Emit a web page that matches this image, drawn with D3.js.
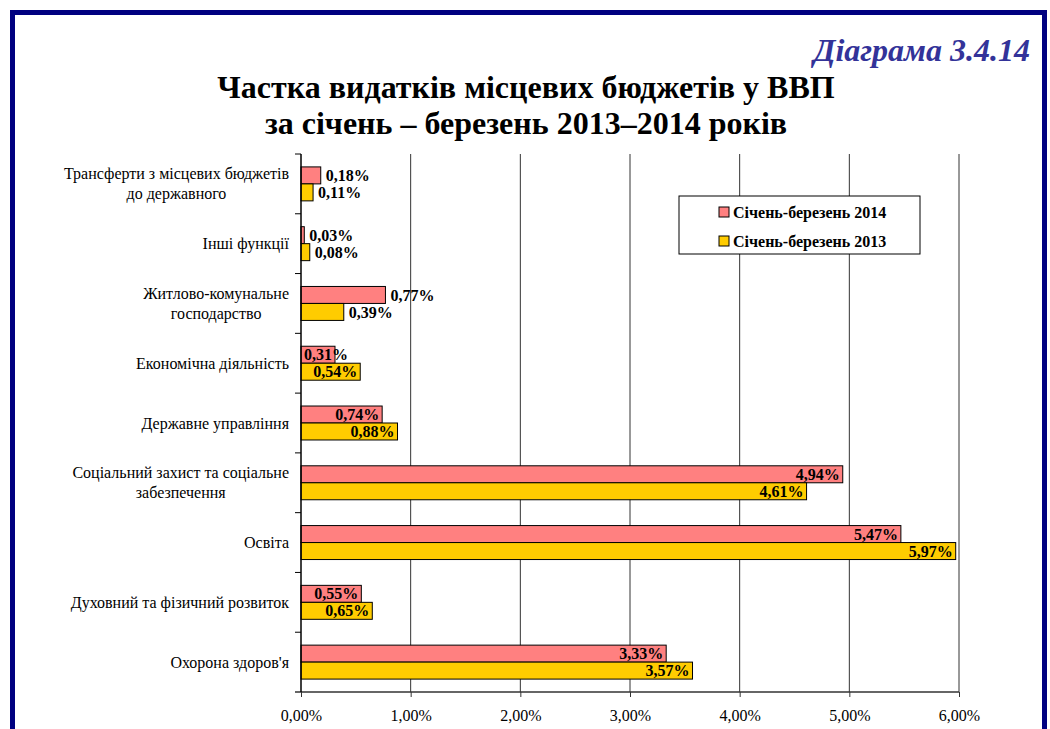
<!DOCTYPE html>
<html>
<head>
<meta charset="utf-8">
<script src="https://cdn.jsdelivr.net/npm/d3@7"></script>
<style>
  body { margin: 0; background: #fff; }
  text { font-family: "Liberation Serif", "Times New Roman", serif; }
</style>
</head>
<body>
<svg width="1050" height="729"></svg>
<script>
  const categories = [
    ["Трансферти з місцевих бюджетів", "до державного"],
    ["Інші функції"],
    ["Житлово-комунальне", "господарство"],
    ["Економічна діяльність"],
    ["Державне управління"],
    ["Соціальний захист та соціальне", "забезпечення"],
    ["Освіта"],
    ["Духовний та фізичний розвиток"],
    ["Охорона здоров'я"]
  ];
  const series = ["Січень-березень 2014", "Січень-березень 2013"];
  const values2014 = [0.18, 0.03, 0.77, 0.31, 0.74, 4.94, 5.47, 0.55, 3.33];
  const values2013 = [0.11, 0.08, 0.39, 0.54, 0.88, 4.61, 5.97, 0.65, 3.57];
  const xTicks = [0, 1, 2, 3, 4, 5, 6];
  // labels of these categories sit outside the bar end
  const outsideLabels = [0, 1, 2];

  const svg = d3.select("svg"),
        margin = {top: 154, right: 91, bottom: 37, left: 301},
        width = 1050, height = 729;

  const colors = ["#ff8080", "#ffcc00"];
  const fmt = v => v.toFixed(2).replace(".", ",") + "%";

  // frame
  svg.append("rect")
    .attr("x", 12.5).attr("y", 12.5)
    .attr("width", 1032).attr("height", 740)
    .attr("fill", "none").attr("stroke", "#000080").attr("stroke-width", 5);

  svg.append("text")
    .attr("x", 1030).attr("y", 61)
    .attr("text-anchor", "end")
    .attr("font-size", 32).attr("font-weight", "bold").attr("font-style", "italic")
    .attr("fill", "#333399")
    .text("Діаграма 3.4.14");

  svg.append("text")
    .attr("x", 526).attr("y", 98)
    .attr("text-anchor", "middle")
    .attr("font-size", 32).attr("font-weight", "bold")
    .text("Частка видатків місцевих бюджетів у ВВП");
  svg.append("text")
    .attr("x", 526).attr("y", 134)
    .attr("text-anchor", "middle")
    .attr("font-size", 32).attr("font-weight", "bold")
    .text("за січень – березень 2013–2014 років");

  const x = d3.scaleLinear()
    .domain([0, 6])
    .range([margin.left, width - margin.right]);

  const y = d3.scaleBand()
    .domain(d3.range(categories.length))
    .range([margin.top, height - margin.bottom]);

  const inner = d3.scaleBand()
    .domain([0, 1])
    .range([0, y.bandwidth()])
    .paddingOuter(0.76);

  // grid
  svg.append("g")
    .selectAll("line")
    .data(xTicks.slice(1))
    .join("line")
    .attr("x1", d => x(d)).attr("x2", d => x(d))
    .attr("y1", margin.top).attr("y2", height - margin.bottom)
    .attr("stroke", "#333").attr("stroke-width", 1);

  // bars
  const rows = categories.map((c, i) => [
    {i, s: 0, v: values2014[i]},
    {i, s: 1, v: values2013[i]}
  ]).flat();

  svg.append("g")
    .selectAll("rect")
    .data(rows)
    .join("rect")
    .attr("x", x(0))
    .attr("y", d => y(d.i) + inner(d.s))
    .attr("width", d => x(d.v) - x(0))
    .attr("height", inner.bandwidth())
    .attr("fill", d => colors[d.s])
    .attr("stroke", "#000").attr("stroke-width", 1);

  // value labels
  const labels = svg.append("g")
    .selectAll("text")
    .data(rows)
    .join("text")
    .attr("y", d => y(d.i) + inner(d.s) + inner.bandwidth() / 2)
    .attr("dy", "0.35em")
    .attr("font-size", 16).attr("font-weight", "bold")
    .text(d => fmt(d.v));
  labels.each(function(d) {
    const t = d3.select(this);
    const w = this.getComputedTextLength();
    if (outsideLabels.includes(d.i)) {
      t.attr("x", x(d.v) + 5).attr("text-anchor", "start");
    } else {
      t.attr("x", Math.max(x(d.v) - 3, x(0) + 3 + w)).attr("text-anchor", "end");
    }
  });

  // x axis
  const xAxis = svg.append("g")
    .attr("transform", `translate(0,${height - margin.bottom})`)
    .call(d3.axisBottom(x).tickValues(xTicks).tickSize(5).tickFormat(fmt));
  xAxis.select(".domain").attr("stroke", "#333").attr("stroke-width", 1.5).attr("d", `M${x(0) - 6},0H${x(6)}`);
  xAxis.selectAll(".tick line").attr("stroke", "#333");
  xAxis.selectAll(".tick text")
    .attr("font-size", 16).attr("fill", "#000").attr("dy", "1.3em");

  // y axis
  svg.append("line")
    .attr("x1", x(0)).attr("x2", x(0))
    .attr("y1", margin.top).attr("y2", height - margin.bottom)
    .attr("stroke", "#000").attr("stroke-width", 1.5);
  svg.append("g")
    .selectAll("line")
    .data(d3.range(categories.length))
    .join("line")
    .attr("x1", x(0) - 6).attr("x2", x(0))
    .attr("y1", d => y(d)).attr("y2", d => y(d))
    .attr("stroke", "#000");

  // category labels
  const catG = svg.append("g");
  categories.forEach((lines, i) => {
    const g = catG.append("g");
    const cy = y(i) + y.bandwidth() / 2;
    const texts = lines.map((l, k) => g.append("text")
      .attr("y", cy + (k - (lines.length - 1) / 2) * 20)
      .attr("dy", "0.35em")
      .attr("font-size", 16)
      .attr("text-anchor", "middle")
      .text(l));
    const wMax = d3.max(texts, t => t.node().getComputedTextLength());
    texts.forEach(t => t.attr("x", 289 - wMax / 2));
  });

  // legend
  const lg = svg.append("g").attr("transform", "translate(679,196)");
  lg.append("rect")
    .attr("width", 241).attr("height", 58)
    .attr("fill", "#fff").attr("stroke", "#000");
  series.forEach((s, k) => {
    lg.append("rect")
      .attr("x", 40).attr("y", 11 + k * 29)
      .attr("width", 10).attr("height", 10)
      .attr("fill", colors[k]).attr("stroke", "#000");
    lg.append("text")
      .attr("x", 54).attr("y", 16 + k * 29)
      .attr("dy", "0.35em")
      .attr("font-size", 16).attr("font-weight", "bold")
      .text(s);
  });
</script>
</body>
</html>
